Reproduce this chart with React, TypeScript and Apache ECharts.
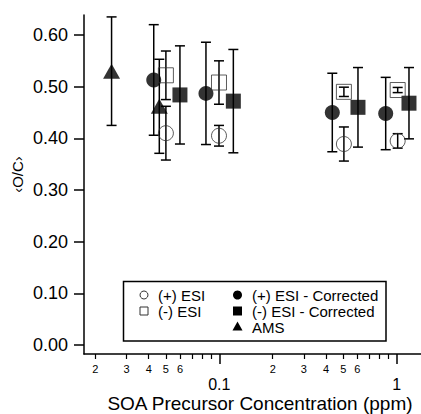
import React, { useEffect, useRef } from "react";
import * as echarts from "echarts";

// (+) ESI  (open circles)
const pEsiX = [0.05, 0.0996, 0.504, 1.013];
const pEsiY = [0.41, 0.405, 0.389, 0.395];
const pEsiErr = [0.052, 0.02, 0.033, 0.014];

// (-) ESI  (open squares)
const nEsiX = [0.05, 0.0996, 0.504, 1.013];
const nEsiY = [0.522, 0.508, 0.49, 0.4935];
const nEsiErr = [0.047, 0.042, 0.009, 0.005];

// (+) ESI - Corrected (filled circles)
const pCorX = [0.0427, 0.0841, 0.4335, 0.867];
const pCorY = [0.513, 0.487, 0.45, 0.448];
const pCorErr = [0.107, 0.099, 0.076, 0.07];

// (-) ESI - Corrected (filled squares)
const nCorX = [0.06, 0.12, 0.605, 1.173];
const nCorY = [0.484, 0.472, 0.46, 0.468];
const nCorErr = [0.095, 0.1, 0.077, 0.069];

// AMS (filled triangles)
const amsX = [0.0247, 0.0459];
const amsY = [0.53, 0.462];
const amsErr = [0.105, 0.091];

const yTicks = [0, 0.1, 0.2, 0.3, 0.4, 0.5, 0.6];
const xMajorTicks = [0.1, 1];
const xMinorTicks = [0.02, 0.03, 0.04, 0.05, 0.06, 0.07, 0.08, 0.09, 0.2, 0.3, 0.4, 0.5, 0.6, 0.7, 0.8, 0.9];
const xMinorLabels = [0.02, 0.03, 0.04, 0.05, 0.06, 0.2, 0.3, 0.4, 0.5, 0.6];

const legendLeft = ["(+) ESI", "(-) ESI"];
const legendRight = ["(+) ESI - Corrected", "(-) ESI - Corrected", "AMS"];

const FONT = "'Liberation Sans', Arial, Helvetica, sans-serif";
const X_MIN = 0.01727;
const X_MAX = 1.371;
const Y_MIN = -0.01742;
const Y_MAX = 0.6387;

function zip(xs: number[], ys: number[], es?: number[]) {
  return xs.map((x, i) => (es ? [x, ys[i], es[i]] : [x, ys[i]]));
}

function errSeries(xs: number[], ys: number[], es: number[]) {
  return {
    type: "custom",
    xAxisIndex: 0,
    yAxisIndex: 0,
    z: 2,
    encode: { x: 0, y: 1 },
    data: zip(xs, ys, es),
    renderItem: (params: any, api: any) => {
      const x = api.value(0);
      const y = api.value(1);
      const e = api.value(2);
      const t = api.coord([x, y + e]);
      const b = api.coord([x, y - e]);
      const hw = 5;
      const st = { stroke: "#000", lineWidth: 1.5 };
      return {
        type: "group",
        children: [
          { type: "line", shape: { x1: t[0], y1: t[1], x2: b[0], y2: b[1] }, style: st },
          { type: "line", shape: { x1: t[0] - hw, y1: t[1], x2: t[0] + hw, y2: t[1] }, style: st },
          { type: "line", shape: { x1: b[0] - hw, y1: b[1], x2: b[0] + hw, y2: b[1] }, style: st },
        ],
      };
    },
  };
}

export default function App() {
  const ref = useRef<HTMLDivElement>(null);
  useEffect(() => {
    if (!ref.current) return;
    const chart = echarts.init(ref.current, undefined, { renderer: "svg" });
    const hollow = { color: "rgba(0,0,0,0)", borderColor: "#333", borderWidth: 1 };
    const baseX = {
      type: "log",
      logBase: 10,
      gridIndex: 0,
      min: X_MIN,
      max: X_MAX,
      position: "bottom",
      splitLine: { show: false },
      minorTick: { show: false },
    };
    const option: any = {
      animation: false,
      grid: { left: 84, right: 0, top: 15, bottom: 60, containLabel: false },
      xAxis: [
        {
          ...baseX,
          axisLine: { show: true, onZero: false, lineStyle: { color: "#000", width: 1.5 } },
          axisTick: { show: true, customValues: xMajorTicks, length: 10, lineStyle: { color: "#000", width: 1.5 } },
          axisLabel: {
            show: true,
            customValues: xMajorTicks,
            margin: 22,
            fontSize: 16,
            fontFamily: FONT,
            color: "#000",
            formatter: (v: number) => (v >= 1 ? "1" : "0.1"),
          },
        },
        {
          ...baseX,
          axisLine: { show: false, onZero: false },
          axisTick: { show: true, customValues: xMinorTicks, length: 5, lineStyle: { color: "#000", width: 1.2 } },
          axisLabel: {
            show: true,
            customValues: xMinorLabels,
            margin: 9,
            fontSize: 11,
            fontFamily: FONT,
            color: "#000",
            formatter: (v: number) => String(Math.round(v / Math.pow(10, Math.floor(Math.log10(v) + 1e-9)))),
          },
        },
      ],
      yAxis: {
        type: "value",
        min: Y_MIN,
        max: Y_MAX,
        splitLine: { show: false },
        axisLine: { show: true, onZero: false, lineStyle: { color: "#000", width: 1.5 } },
        axisTick: { show: true, customValues: yTicks, length: 10, lineStyle: { color: "#000", width: 1.5 } },
        axisLabel: {
          show: true,
          customValues: yTicks,
          margin: 16,
          fontSize: 18,
          fontFamily: FONT,
          color: "#000",
          formatter: (v: number) => v.toFixed(2),
        },
      },
      series: [
        errSeries(amsX, amsY, amsErr),
        errSeries(pCorX, pCorY, pCorErr),
        errSeries(nEsiX, nEsiY, nEsiErr),
        errSeries(pEsiX, pEsiY, pEsiErr),
        errSeries(nCorX, nCorY, nCorErr),
        {
          type: "scatter",
          name: "AMS",
          z: 3,
          symbol: "triangle",
          symbolSize: [17, 15],
          itemStyle: { color: "#000" },
          data: zip(amsX, amsY),
        },
        {
          type: "scatter",
          name: "(+) ESI - Corrected",
          z: 3,
          symbol: "circle",
          symbolSize: 15,
          itemStyle: { color: "#000" },
          data: zip(pCorX, pCorY),
        },
        {
          type: "scatter",
          name: "(-) ESI - Corrected",
          z: 3,
          symbol: "rect",
          symbolSize: 15,
          itemStyle: { color: "#000" },
          data: zip(nCorX, nCorY),
        },
        {
          type: "scatter",
          name: "(-) ESI",
          z: 3,
          symbol: "rect",
          symbolSize: 15,
          itemStyle: hollow,
          data: zip(nEsiX, nEsiY),
        },
        {
          type: "scatter",
          name: "(+) ESI",
          z: 3,
          symbol: "circle",
          symbolSize: 15,
          itemStyle: hollow,
          data: zip(pEsiX, pEsiY),
        },
      ],
      graphic: [
        {
          type: "text",
          x: 17.5,
          y: 174.5,
          rotation: Math.PI / 2,
          style: { text: "‹O/C›", fontSize: 15, fontFamily: FONT, fill: "#000", align: "center", verticalAlign: "middle" },
        },
        {
          type: "text",
          x: 260,
          y: 403,
          style: {
            text: "SOA Precursor Concentration (ppm)",
            fontSize: 19,
            fontFamily: FONT,
            fill: "#000",
            align: "center",
            verticalAlign: "middle",
          },
        },
        {
          type: "group",
          z: 100,
          children: [
            {
              type: "rect",
              shape: { x: 123.5, y: 281.5, width: 262.5, height: 59.5 },
              style: { fill: "#fff", stroke: "#000", lineWidth: 1.5 },
            },
            { type: "circle", shape: { cx: 144, cy: 295, r: 4 }, style: { fill: "none", stroke: "#333", lineWidth: 1 } },
            { type: "rect", shape: { x: 140, y: 307, width: 8, height: 8 }, style: { fill: "none", stroke: "#333", lineWidth: 1 } },
            { type: "circle", shape: { cx: 237.5, cy: 295, r: 4.5 }, style: { fill: "#000" } },
            { type: "rect", shape: { x: 233, y: 306.5, width: 9, height: 9 }, style: { fill: "#000" } },
            {
              type: "polygon",
              shape: { points: [[232.5, 330.5], [242.5, 330.5], [237.5, 321.5]] },
              style: { fill: "#000" },
            },
            ...legendLeft.map((t, i) => ({
              type: "text",
              x: 158,
              y: 295 + i * 16,
              style: { text: t, fontSize: 15, fontFamily: FONT, fill: "#000", align: "left", verticalAlign: "middle" },
            })),
            ...legendRight.map((t, i) => ({
              type: "text",
              x: 252,
              y: 295 + i * 16,
              style: { text: t, fontSize: 15, fontFamily: FONT, fill: "#000", align: "left", verticalAlign: "middle" },
            })),
          ],
        },
      ],
    };
    chart.setOption(option);
    return () => chart.dispose();
  }, []);
  return <div ref={ref} style={{ position: "fixed", left: 0, top: 0, width: 421, height: 414, background: "#fff" }} />;
}
